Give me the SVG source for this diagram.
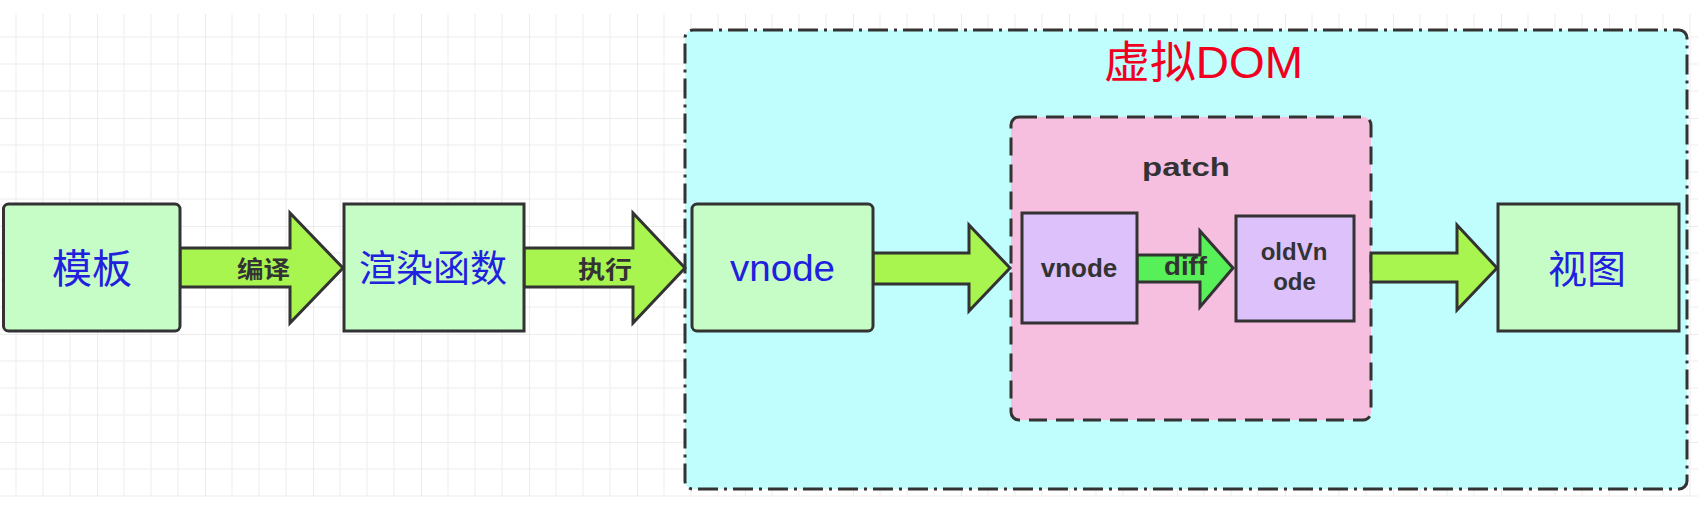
<svg xmlns="http://www.w3.org/2000/svg" width="1702" height="518" viewBox="0 0 1702 518">
<style>
.box{fill:#C6FCC6;stroke:#333;stroke-width:3}
.inner{fill:#DCC1FB;stroke:#333;stroke-width:3}
.arrow{fill:#A8F550;stroke:#333;stroke-width:3;stroke-linejoin:miter}
.arrow2{fill:#58F058;stroke:#333;stroke-width:3}
.cjk{font-family:"Noto Sans CJK SC","Liberation Sans",sans-serif;fill:#2020DE;text-anchor:middle}
.lbl{font-family:"Noto Sans CJK SC","Liberation Sans",sans-serif;font-weight:bold;fill:#333;text-anchor:middle;font-size:24px}
.en{font-family:"Liberation Sans","Noto Sans CJK SC",sans-serif;font-weight:bold;fill:#333;text-anchor:middle}
</style>
<defs>
<pattern id="grid" patternUnits="userSpaceOnUse" x="-11" y="10" width="108" height="108">
<path d="M27 0V108M54 0V108M81 0V108M0 27H108M0 54H108M0 81H108" stroke="#F3F3F3" stroke-width="1.5" fill="none"/>
<path d="M0 0V108M0 0H108" stroke="#E6E6E6" stroke-width="1.5" fill="none"/>
</pattern>
</defs>
<rect x="0" y="0" width="1702" height="518" fill="#FFFFFF"/>
<rect x="0" y="14" width="1698" height="483" fill="url(#grid)"/>

<g id="virtual-dom">
<rect x="685" y="30" width="1002" height="459" rx="8" fill="#BFFEFD" stroke="#333" stroke-width="3" stroke-dasharray="20 6 3 6"/>
<text x="1203.5" y="78" font-family="Liberation Sans,Noto Sans CJK SC,sans-serif" font-size="44" fill="#F0001E" text-anchor="middle" textLength="199" lengthAdjust="spacingAndGlyphs">虚拟DOM</text>
</g>
<g id="patch">
<rect x="1011" y="117" width="360" height="303" rx="8" fill="#F6BFDF" stroke="#333" stroke-width="3" stroke-dasharray="18 9"/>
<text class="en" x="1186" y="176" font-size="26" textLength="88" lengthAdjust="spacingAndGlyphs">patch</text>
</g>

<g id="connectors">
<polygon class="arrow" points="180,248 290,248 290,213 343,268 290,323 290,287 180,287"/>
<text class="lbl" x="263.5" y="277.5" textLength="53" lengthAdjust="spacingAndGlyphs">编译</text>
<polygon class="arrow" points="524,248 633,248 633,213 685,268 633,323 633,287 524,287"/>
<text class="lbl" x="605" y="278" textLength="54" lengthAdjust="spacingAndGlyphs">执行</text>
<polygon class="arrow" points="873,253 969,253 969,225 1010,268 969,311 969,284 873,284"/>
<polygon class="arrow2" points="1137,255 1200,255 1200,231 1233,268 1200,307 1200,282 1137,282"/>
<text class="en" x="1185.5" y="275" font-size="26" textLength="43" lengthAdjust="spacingAndGlyphs">diff</text>
<polygon class="arrow" points="1371,253 1457,253 1457,225 1497,268 1457,310 1457,282 1371,282"/>
</g>

<g id="template">
<rect class="box" x="3.5" y="204" width="176.5" height="127" rx="5"/>
<text class="cjk" x="92" y="283" font-size="40">模板</text>
</g>
<g id="render-fn">
<rect class="box" x="344" y="204" width="180" height="127"/>
<text class="cjk" x="433" y="282" font-size="37">渲染函数</text>
</g>
<g id="vnode">
<rect class="box" x="692" y="204" width="181" height="127" rx="5"/>
<text x="782.5" y="281" font-family="Liberation Sans,sans-serif" font-size="37" fill="#2020DE" text-anchor="middle" textLength="105" lengthAdjust="spacingAndGlyphs">vnode</text>
</g>
<g id="patch-vnode">
<rect class="inner" x="1022" y="213" width="115" height="110"/>
<text class="en" x="1079" y="277" font-size="26">vnode</text>
</g>
<g id="old-vnode">
<rect class="inner" x="1236" y="216" width="118" height="105"/>
<text class="en" x="1294" y="260" font-size="24">oldVn</text>
<text class="en" x="1294.5" y="290" font-size="24">ode</text>
</g>
<g id="view">
<rect class="box" x="1498" y="204" width="181" height="127"/>
<text class="cjk" x="1587" y="283" font-size="39">视图</text>
</g>
</svg>
